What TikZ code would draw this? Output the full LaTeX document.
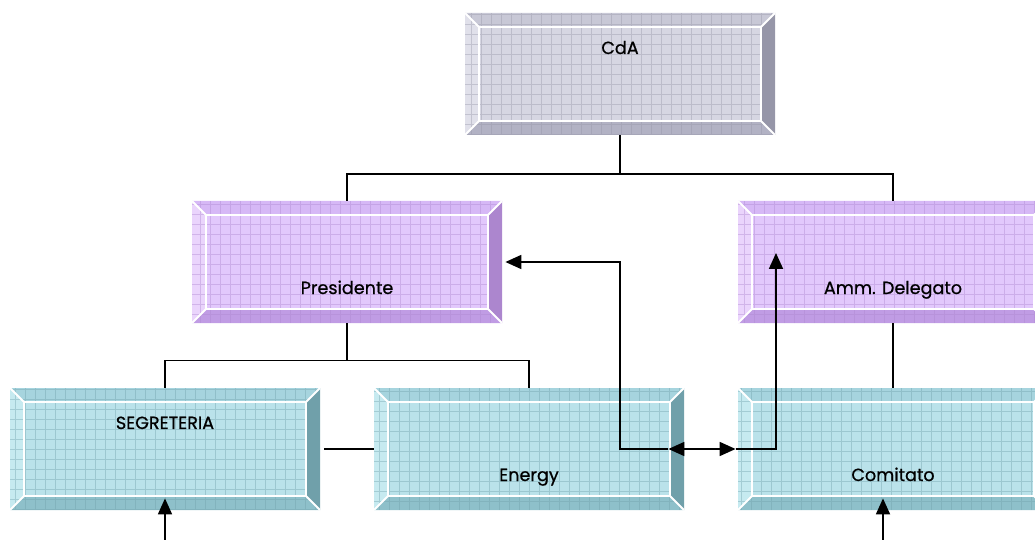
\documentclass[tikz,border=0pt]{standalone}
\usepackage{fontspec}
\setmainfont{Poppins}
\newfontfamily\panelfont{Poppins}[FakeBold=0.7]
\usetikzlibrary{arrows.meta}

\definecolor{cdafill}{RGB}{214,214,226}
\definecolor{cdatop}{RGB}{200,200,214}
\definecolor{cdaleft}{RGB}{224,224,234}
\definecolor{cdaright}{RGB}{150,150,168}
\definecolor{cdabottom}{RGB}{178,178,196}
\definecolor{lilfill}{RGB}{226,200,252}
\definecolor{liltop}{RGB}{214,184,246}
\definecolor{lilleft}{RGB}{234,212,252}
\definecolor{lilright}{RGB}{172,134,206}
\definecolor{lilbottom}{RGB}{192,156,228}
\definecolor{tealfill}{RGB}{186,226,234}
\definecolor{tealtop}{RGB}{166,212,222}
\definecolor{tealleft}{RGB}{198,234,240}
\definecolor{tealright}{RGB}{112,160,170}
\definecolor{tealbottom}{RGB}{142,192,202}

\tikzset{
  panel/.style={minimum width=155pt, minimum height=61pt, inner sep=0pt,
    fill=#1fill, font=\panelfont\fontsize{8.8}{10}\selectfont,
    path picture={
      \coordinate (nw) at (path picture bounding box.north west);
      \coordinate (ne) at (path picture bounding box.north east);
      \coordinate (sw) at (path picture bounding box.south west);
      \coordinate (se) at (path picture bounding box.south east);
      \coordinate (inw) at ([xshift=7pt,yshift=-7pt]nw);
      \coordinate (ine) at ([xshift=-7pt,yshift=-7pt]ne);
      \coordinate (isw) at ([xshift=7pt,yshift=7pt]sw);
      \coordinate (ise) at ([xshift=-7pt,yshift=7pt]se);
      \fill[#1top] (nw) -- (ne) -- (ine) -- (inw) -- cycle;
      \fill[#1right] (ne) -- (se) -- (ise) -- (ine) -- cycle;
      \fill[#1bottom] (se) -- (sw) -- (isw) -- (ise) -- cycle;
      \fill[#1left] (sw) -- (nw) -- (inw) -- (isw) -- cycle;
      \draw[#1right, opacity=0.4, line width=0.4pt, step=5pt] (sw) grid (ne);
      \draw[white, line width=0.9pt] (inw) rectangle (ise)
        (nw) -- (inw) (ne) -- (ine) (sw) -- (isw) (se) -- (ise);
    }},
  toptext/.style={text height=6pt, text depth=26pt},
  bottext/.style={text height=32pt, text depth=0pt},
  link/.style={line width=0.9pt},
  arr/.style={line width=0.9pt, -{Triangle[length=8pt,width=7pt]}}
}

\begin{document}
\begin{tikzpicture}[x=0.5pt, y=-0.5pt]
  \useasboundingbox (0,0) rectangle (1035,540);

  % Caselle
  \node[panel=cda, toptext] (cda) at (620,74) {CdA};
  \node[panel=lil, bottext] (pres) at (347,262) {Presidente};
  \node[panel=lil, bottext] (amm) at (893,262) {Amm. Delegato};
  \node[panel=teal, toptext] (segr) at (165,449) {SEGRETERIA};
  \node[panel=teal, bottext] (energy) at (529,449) {Energy};
  \node[panel=teal, bottext] (comit) at (893,449) {Comitato};

  % Collegamenti gerarchici
  \draw[link] (cda.south) -- ++(0,39) -| (pres.north);
  \draw[link] (cda.south) ++(0,39) -| (amm.north);
  \draw[link] (pres.south) -- ++(0,37) -| (segr.north);
  \draw[link] (pres.south) ++(0,37) -| (energy.north);
  \draw[link] ([xshift=2pt]segr.east) -- (energy.west);
  \draw[link] (amm.south) -- (comit.north);

  % Frecce
  \coordinate (bend) at (620,262);
  \coordinate (ammin) at (776,253);
  \coordinate (segrin) at (165,545);
  \coordinate (comitin) at (883,545);
  \draw[arr] ([xshift=-8pt]energy.east) -| (bend) -- ([xshift=1.5pt]pres.east);
  \draw[arr, {Triangle[length=8pt,width=7pt]}-{Triangle[length=8pt,width=7pt]}] ([xshift=-8pt]energy.east) -- ([xshift=-1pt]comit.west);
  \draw[arr] ([xshift=-1pt]comit.west) -| (ammin);
  \draw[arr] (segrin) -- ([yshift=6pt]segr.south);
  \draw[arr] (comitin) -- ([xshift=-5pt,yshift=6pt]comit.south);
\end{tikzpicture}
\end{document}
